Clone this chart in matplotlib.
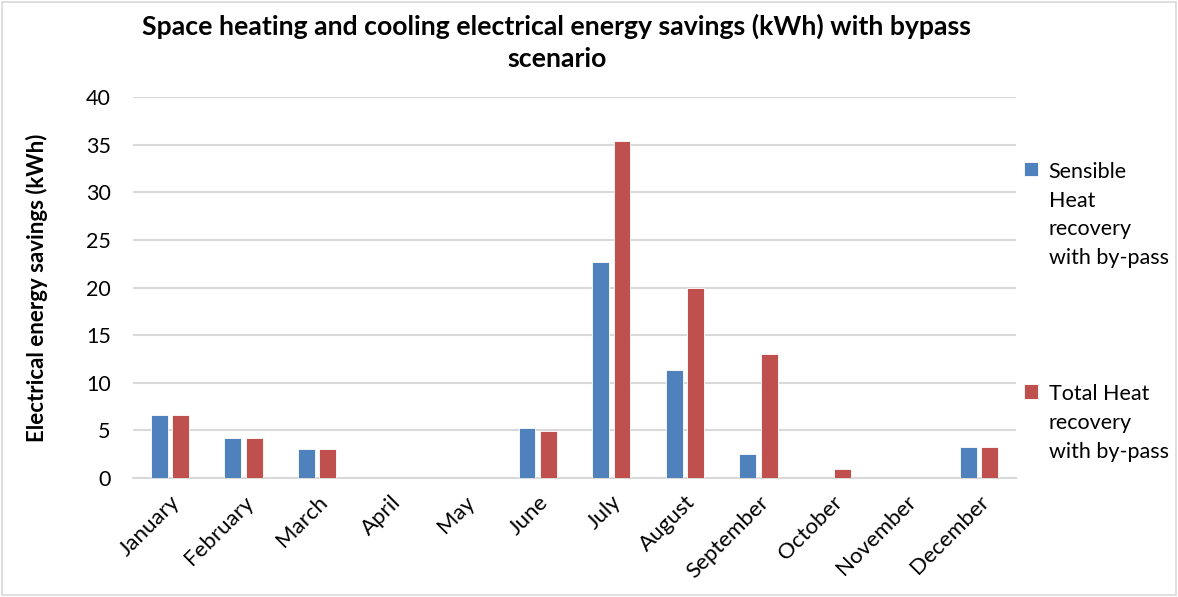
import matplotlib.pyplot as plt
import numpy as np

months = ["January", "February", "March", "April", "May", "June", "July",
          "August", "September", "October", "November", "December"]
sensible = [6.6, 4.2, 3.0, 0, 0, 5.3, 22.7, 11.3, 2.5, 0, 0, 3.3]
total = [6.6, 4.2, 3.0, 0, 0, 4.9, 35.4, 19.9, 13.0, 0.9, 0, 3.3]
labels = ["Sensible\nHeat\nrecovery\nwith by-pass", "Total Heat\nrecovery\nwith by-pass"]

blue = "#4f81bd"
red = "#c0504d"

plt.rcParams["font.family"] = ["Lato", "DejaVu Sans"]

fig = plt.figure(figsize=(11.78, 5.97), dpi=100)
ax = fig.add_axes([133 / 1178, 1 - 478 / 597, (1016 - 133) / 1178, (478 - 97) / 597])

x = np.arange(len(months))
w = 0.23
ax.bar(x - 0.146, sensible, w, color=blue, edgecolor="white", linewidth=0.6, label=labels[0], zorder=3)
ax.bar(x + 0.146, total, w, color=red, edgecolor="white", linewidth=0.6, label=labels[1], zorder=3)

ax.set_xlim(-0.5, 11.5)
ax.set_ylim(0, 40)
ax.set_yticks(range(0, 41, 5))
ax.set_xticks(x)
ax.set_xticklabels(months, rotation=45, ha="right", rotation_mode="anchor", fontsize=16)
ax.tick_params(axis="y", labelsize=15.5, length=0, pad=16)
ax.tick_params(axis="x", length=0, pad=10)
ax.grid(axis="y", color="#d9d9d9", linewidth=1.5, zorder=0)
for s in ["top", "right", "left"]:
    ax.spines[s].set_visible(False)
ax.spines["bottom"].set_color("#d9d9d9")
ax.spines["bottom"].set_linewidth(1.5)

ax.set_ylabel("Electrical energy savings (kWh)", fontsize=16, fontweight="bold", labelpad=27)
fig.text(557 / 1178, 1 - 42 / 597,
         "Space heating and cooling electrical energy savings (kWh) with bypass\nscenario",
         ha="center", va="center", fontsize=19.2, fontweight="bold", linespacing=1.4)

leg = ax.legend(loc="upper left", bbox_to_anchor=(1.009, 0.83), frameon=False, fontsize=15.5,
                handlelength=0.65, handleheight=0.65, handletextpad=0.5,
                labelspacing=5.4, borderaxespad=0, borderpad=0)
for t in leg.get_texts():
    t.set_linespacing(1.55)
for col in leg._legend_handle_box.get_children():
    for row in col.get_children():
        row.align = "top"

fig.patches.append(plt.Rectangle((0.002, 0.003), 0.996, 0.994, transform=fig.transFigure,
                                 fill=False, edgecolor="#d9d9d9", linewidth=1.2))

fig.savefig("out.png", dpi=100)
